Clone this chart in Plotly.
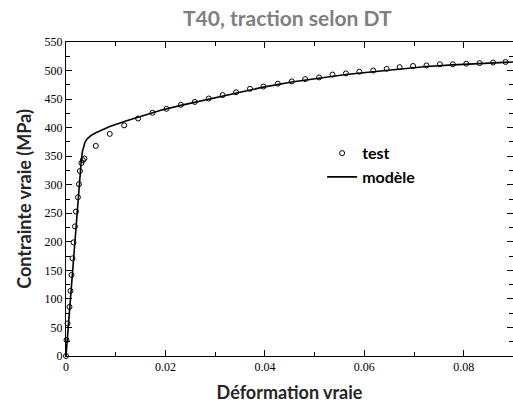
import plotly.graph_objects as go

# Experimental points: true strain / true stress (MPa)
test_strain = [0.0, 0.0001, 0.0003, 0.0007, 0.0009, 0.0011, 0.0013, 0.0015, 0.0018,
               0.0020, 0.0024, 0.0026, 0.0028, 0.0031, 0.0034, 0.0037, 0.0060,
               0.0088, 0.0117, 0.0145, 0.0174, 0.0202, 0.0231, 0.0259, 0.0287,
               0.0315, 0.0342, 0.0370, 0.0397, 0.0426, 0.0454, 0.0481, 0.0509,
               0.0536, 0.0563, 0.0590, 0.0618, 0.0645, 0.0671, 0.0698, 0.0725,
               0.0752, 0.0778, 0.0805, 0.0832, 0.0859, 0.0884]
test_stress = [0, 28, 57, 86, 114, 142, 171, 199, 227,
               253, 278, 301, 324, 338, 343, 346, 368,
               389, 404, 416, 426, 433, 440, 445, 451,
               457, 462, 468, 472, 477, 481, 485, 488,
               493, 495, 498, 500, 503, 506, 508, 509,
               511, 511, 512, 513, 514, 515]

# Model curve
model_strain = [0.0, 0.0028, 0.0031, 0.0033, 0.0035, 0.0038, 0.0042, 0.0050, 0.0060,
                0.0088, 0.0122, 0.0155, 0.0189, 0.0231, 0.0287, 0.0342, 0.0397,
                0.0454, 0.0509, 0.0563, 0.0618, 0.0671, 0.0725, 0.0778, 0.0832, 0.0899]
model_stress = [0, 325, 345, 358, 366, 374, 380, 386, 391,
                402, 412, 421, 430, 439, 450, 461, 471,
                480, 487, 493, 498, 503, 507, 510, 512, 515]

label_font = "Lato, Open Sans, sans-serif"
tick_font = "Liberation Serif, DejaVu Serif, serif"

fig = go.Figure()
fig.add_trace(go.Scatter(
    x=test_strain, y=test_stress, mode="markers", name="test",
    marker=dict(symbol="circle-open", size=5, color="black", line=dict(width=1, color="black")),
    cliponaxis=False,
))
fig.add_trace(go.Scatter(
    x=model_strain, y=model_stress, mode="lines", name="modèle",
    line=dict(color="black", width=1.6),
))

axis_common = dict(
    showgrid=False, zeroline=False, showline=True, linecolor="black", linewidth=1,
    mirror="allticks", ticks="inside", ticklen=6, tickcolor="black", tickwidth=1,
    tickfont=dict(family=tick_font, size=12, color="black"),
)

fig.update_xaxes(
    range=[0, 0.0899], tickvals=[0, 0.02, 0.04, 0.06, 0.08],
    ticktext=["0", "0.02", "0.04", "0.06", "0.08"],
    minor=dict(ticks="inside", ticklen=4, tickcolor="black", dtick=0.01, tick0=0),
    title=dict(text="Déformation vraie", standoff=12,
               font=dict(family=label_font, size=18, color="#262626", weight="bold")),
    **axis_common,
)
fig.update_yaxes(
    range=[0, 550], tickvals=list(range(0, 551, 50)),
    minor=dict(ticks="inside", ticklen=4, tickcolor="black", dtick=25, tick0=0),
    title=dict(text="Contrainte vraie (MPa)", standoff=8,
               font=dict(family=label_font, size=18, color="#262626", weight="bold")),
    **axis_common,
)

fig.update_layout(
    width=513, height=407,
    margin=dict(l=66, r=0, t=42, b=51),
    paper_bgcolor="white", plot_bgcolor="white",
    title=dict(text="T40, traction selon DT", x=0.56, xanchor="center",
               yref="container", y=0.955, yanchor="middle",
               font=dict(family=label_font, size=21, color="#7f7f7f", weight="bold")),
    showlegend=True,
    legend=dict(x=0.573, y=0.70, xanchor="left", yanchor="top", bgcolor="rgba(0,0,0,0)",
                font=dict(family=label_font, size=16, color="black", weight="bold"),
                itemwidth=30),
)

fig.write_html("out.html")
